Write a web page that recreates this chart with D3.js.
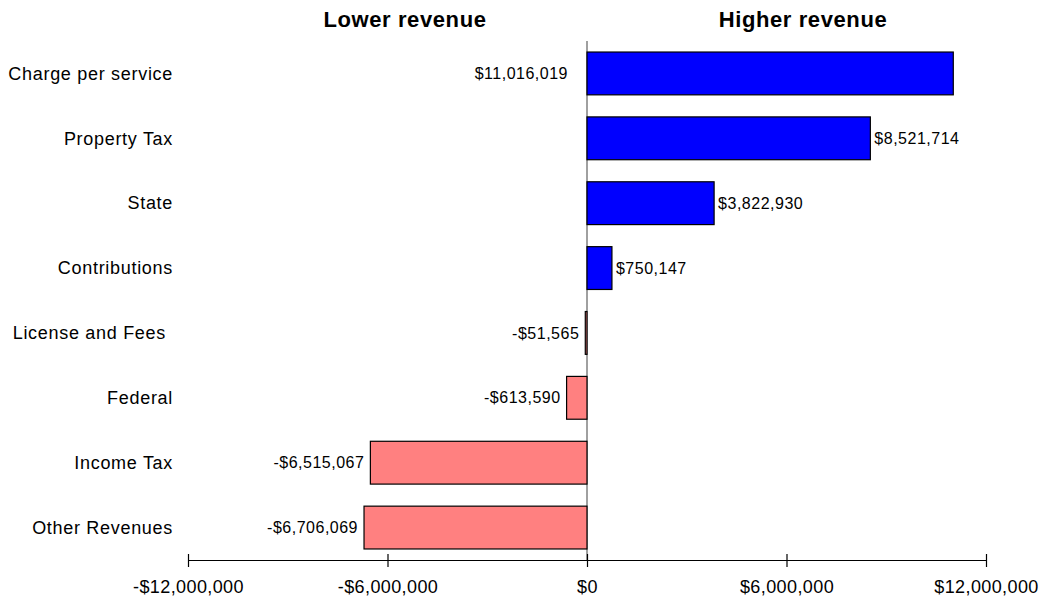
<!DOCTYPE html>
<html>
<head>
<meta charset="utf-8">
<script src="https://cdn.jsdelivr.net/npm/d3@7"></script>
<style>
  body { margin: 0; background: #fff; }
  text { font-family: "Liberation Sans", Arial, sans-serif; fill: #000; }
</style>
</head>
<body>
<script>
const categories = ["Charge per service", "Property Tax", "State", "Contributions",
  "License and Fees", "Federal", "Income Tax", "Other Revenues"];
const values = [11016019, 8521714, 3822930, 750147, -51565, -613590, -6515067, -6706069];
const tickValues = [-12000000, -6000000, 0, 6000000, 12000000];
const sideTitles = ["Lower revenue", "Higher revenue"];

const width = 1045, height = 602;

const svg = d3.select("body").append("svg")
    .attr("width", width)
    .attr("height", height);

const x = d3.scaleLinear()
    .domain([-12000000, 12000000])
    .range([188, 986]);

const y = d3.scaleBand()
    .domain(categories)
    .range([41, 560])
    .paddingInner(0.34)
    .paddingOuter(0.17);

const money = v => (v < 0 ? "-$" : "$") + d3.format(",")(Math.abs(v));

// titles
svg.selectAll(".side-title")
    .data(sideTitles)
    .join("text")
    .attr("class", "side-title")
    .attr("x", (d, i) => i == 0 ? 405 : 803)
    .attr("y", 27)
    .attr("text-anchor", "middle")
    .style("font-size", "22px")
    .style("font-weight", "bold")
    .style("letter-spacing", "0.6px")
    .text(d => d);

// zero line
svg.append("line")
    .attr("x1", x(0)).attr("x2", x(0))
    .attr("y1", 41).attr("y2", 560)
    .attr("stroke", "#808080")
    .attr("stroke-width", 1.5);

// bars
const rows = categories.map((c, i) => ({ name: c, value: values[i] }));

svg.selectAll(".bar")
    .data(rows)
    .join("rect")
    .attr("class", "bar")
    .attr("x", d => x(Math.min(0, d.value)))
    .attr("width", d => Math.abs(x(d.value) - x(0)))
    .attr("y", d => y(d.name))
    .attr("height", y.bandwidth())
    .attr("fill", d => d.value >= 0 ? "#0000ff" : "#ff8080")
    .attr("stroke", "#000")
    .attr("stroke-width", 1.2);

// value labels
svg.selectAll(".val")
    .data(rows)
    .join("text")
    .attr("class", "val")
    .attr("x", (d, i) => {
      if (i == 0) return x(0) - 19;   // largest bar label sits left of zero
      return d.value >= 0 ? x(d.value) + 4 : x(d.value) - 6;
    })
    .attr("y", d => y(d.name) + y.bandwidth() / 2)
    .attr("dy", "0.35em")
    .attr("text-anchor", (d, i) => (i == 0 || d.value < 0) ? "end" : "start")
    .style("font-size", "16px")
    .style("letter-spacing", "0.5px")
    .text(d => money(d.value));

// category labels
svg.selectAll(".cat")
    .data(categories)
    .join("text")
    .attr("class", "cat")
    .attr("x", d => d == "License and Fees" ? 166 : 173)
    .attr("y", d => y(d) + y.bandwidth() / 2)
    .attr("dy", "0.35em")
    .attr("text-anchor", "end")
    .style("font-size", "18px")
    .style("letter-spacing", "0.7px")
    .text(d => d);

// x axis
const axis = svg.append("g")
    .attr("transform", "translate(0,560)")
    .call(d3.axisBottom(x)
      .tickValues(tickValues)
      .tickSize(7)
      .tickSizeOuter(0)
      .tickFormat(money));

axis.select(".domain").attr("stroke", "#000").attr("stroke-width", 1.2);
axis.selectAll(".tick line")
    .attr("y1", -6)
    .attr("y2", 7)
    .attr("stroke", "#000")
    .attr("stroke-width", 1.2);
axis.selectAll(".tick text")
    .attr("y", 20)
    .style("font-size", "18px")
    .style("letter-spacing", "0.4px")
    .style("font-family", "'Liberation Sans', Arial, sans-serif")
    .attr("fill", "#000");
</script>
</body>
</html>
